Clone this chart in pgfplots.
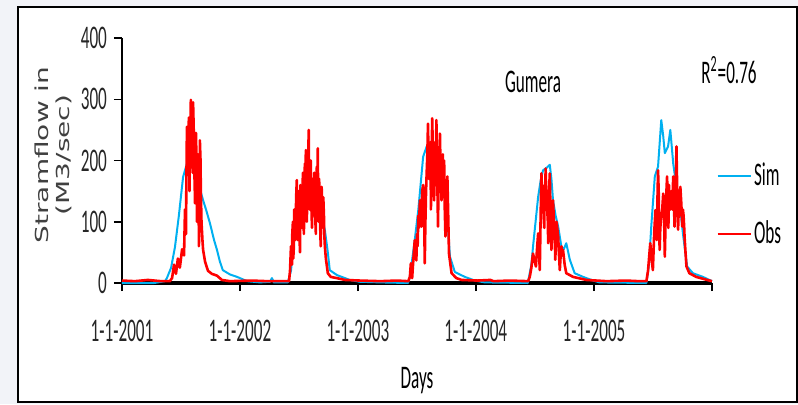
\documentclass[border=0pt]{standalone}
\usepackage{fontspec}
\setmainfont{Carlito}[FakeStretch=0.52]
\newfontfamily\ylabfont{DejaVu Sans}
\usepackage{graphicx}
\usepackage{pgfplots}
\pgfplotsset{compat=1.18}
\definecolor{simblue}{RGB}{0,176,240}
\definecolor{obsred}{RGB}{255,0,0}
\definecolor{bggrey}{RGB}{242,243,248}
\definecolor{labgrey}{RGB}{64,64,64}
\newcommand{\chartfont}{\fontsize{16.5}{18}\selectfont}

\pgfplotstableread{
day val
0 0
100 0
133 3
139 8
152 25
164 59
176 110
189 173
201 195
210 206
217 212
226 200
238 160
251 135
260 120
272 98
285 70
294 54
303 35
312 21
334 14
356 10
387 3
427 1
458 2
464 8
470 1
513 1
523 20
532 70
541 103
557 143
569 135
581 150
597 140
612 130
628 86
637 50
643 21
665 13
690 8
705 5
736 2
800 1
885 0
891 10
906 70
917 119
932 206
943 223
953 225
968 215
984 200
999 160
1009 90
1015 43
1030 18
1061 10
1092 4
1123 1
1256 0
1267 30
1272 59
1288 141
1295 165
1303 184
1314 188
1324 193
1329 170
1334 135
1342 110
1350 92
1360 59
1367 55
1375 65
1386 38
1401 16
1427 10
1458 4
1478 1
1623 0
1631 30
1638 92
1649 174
1659 190
1669 266
1675 240
1680 212
1690 223
1697 250
1706 195
1716 157
1726 130
1736 81
1749 27
1767 16
1798 10
1818 5
1826 3
}\simtable

\pgfplotstableread{
day val
0 4
40 3
80 5
120 3
148 3
155 8
161 30
167 15
173 40
179 25
186 55
192 45
195 120
198 80
199 150
201 255
202 200
204 180
205 230
207 270
209 150
210 220
212 250
213 299
215 200
217 240
219 180
220 295
222 250
223 200
225 160
226 130
228 200
229 245
231 180
232 100
234 140
235 210
237 170
238 60
240 120
241 233
243 200
244 150
246 100
247 90
249 70
251 54
257 35
266 20
278 15
294 12
309 5
334 3
400 4
450 3
517 3
520 20
523 60
524 45
526 30
527 80
529 100
530 40
532 60
533 120
535 91
536 70
538 110
539 140
541 168
542 100
544 70
546 150
548 120
549 80
551 50
552 160
554 130
555 100
557 90
558 140
560 180
561 110
563 80
564 150
566 195
567 120
569 217
570 180
572 100
573 130
575 160
576 200
578 250
579 150
581 120
582 170
584 200
586 130
588 90
589 140
591 170
592 120
594 110
595 180
597 150
598 110
600 80
601 160
603 190
604 120
606 220
607 130
609 100
610 170
612 140
613 100
615 60
616 130
618 157
619 100
622 90
623 140
625 110
626 80
628 59
631 40
637 16
646 10
665 8
690 5
736 4
800 3
850 4
886 3
891 10
894 32
896 20
898 8
900 25
902 40
904 55
906 70
908 50
911 37
913 80
915 60
917 110
919 90
922 135
925 110
927 92
929 150
932 160
935 120
937 32
939 100
941 150
943 180
945 210
947 260
950 170
953 200
955 230
956 120
958 180
960 269
962 220
964 180
966 135
969 230
971 160
973 266
975 200
978 92
980 180
982 150
984 244
986 180
989 135
991 160
993 210
995 140
997 200
999 120
1001 76
1004 120
1007 174
1010 100
1012 48
1020 16
1035 8
1051 5
1100 4
1140 5
1150 3
1200 4
1257 3
1262 10
1267 25
1272 48
1281 27
1285 60
1288 81
1290 60
1293 21
1296 120
1298 179
1300 150
1301 120
1303 140
1305 108
1307 90
1308 160
1310 130
1311 187
1313 150
1316 120
1318 100
1319 65
1321 140
1324 179
1326 120
1329 54
1331 90
1334 135
1336 110
1338 80
1340 60
1341 38
1343 70
1345 100
1347 90
1350 76
1352 50
1355 21
1357 40
1360 60
1362 45
1365 54
1370 30
1375 16
1396 10
1437 5
1500 3
1560 4
1600 3
1623 3
1628 20
1635 65
1639 40
1643 21
1645 50
1647 80
1649 100
1651 119
1653 90
1655 70
1657 130
1659 184
1661 150
1662 100
1664 54
1666 90
1669 110
1672 120
1675 146
1678 100
1680 43
1683 120
1685 150
1687 174
1689 130
1691 90
1693 160
1695 119
1697 140
1700 150
1703 120
1706 174
1708 140
1710 92
1713 130
1716 223
1718 160
1721 87
1723 120
1724 140
1726 110
1728 157
1731 130
1734 92
1736 120
1738 110
1740 90
1741 76
1744 50
1747 27
1756 16
1777 10
1818 4
1826 3
}\obstable

\begin{document}
\begin{tikzpicture}
\fill[bggrey] (-61pt,-60.5pt) rectangle (338pt,141.5pt);
\draw[black, line width=1pt, fill=white] (-52pt,-59.5pt) rectangle (337.5pt,138pt);
\begin{axis}[
  at={(0,0)}, anchor=south west,
  scale only axis, width=295pt, height=122.5pt,
  xmin=0, xmax=1826, ymin=0, ymax=400,
  clip=false,
  axis x line*=bottom, axis y line*=left,
  x axis line style={line width=2pt},
  y axis line style={line width=0.75pt},
  xtick={0,365,730,1095,1461,1826},
  xticklabels={1-1-2001,1-1-2002,1-1-2003,1-1-2004,1-1-2005,{}},
  ytick={0,100,200,300,400},
  tick align=outside,
  major tick length=4pt,
  tick style={black, line width=0.75pt},
  ticklabel style={font=\chartfont, text=black!85},
  xticklabel style={yshift=-11pt},
  /pgf/number format/assume math mode=true,
  legend style={at={(1,0.318)}, anchor=west, xshift=2pt, draw=none, fill=none,
    inner sep=0pt, row sep=14pt, font=\chartfont, nodes={inner sep=1pt}},
  legend cell align=left,
  legend image code/.code={\draw[#1] (0pt,0pt) -- (16.5pt,0pt);},
]
\addplot[simblue, line width=1pt, line join=round] table[x=day, y=val] {\simtable};
\addlegendentry{Sim}
\addplot[obsred, line width=1.3pt, line join=round] table[x=day, y=val] {\obstable};
\addlegendentry{Obs}
\end{axis}
\node[font=\chartfont] at (205.5pt,100.5pt) {Gumera};
\node[font=\chartfont] at (303.5pt,106.5pt) {R\textsuperscript{2}=0.76};
\node[font=\chartfont] at (147.5pt,-49pt) {Days};
\node[rotate=90, text=labgrey, font=\ylabfont\fontsize{14}{16}\selectfont] at (-40pt,64pt) {\scalebox{1}[0.64]{Stramflow in}};
\node[rotate=90, text=labgrey, font=\ylabfont\fontsize{14}{16}\selectfont] at (-29pt,64pt) {\scalebox{1}[0.64]{(M3/sec)}};
\end{tikzpicture}
\end{document}
